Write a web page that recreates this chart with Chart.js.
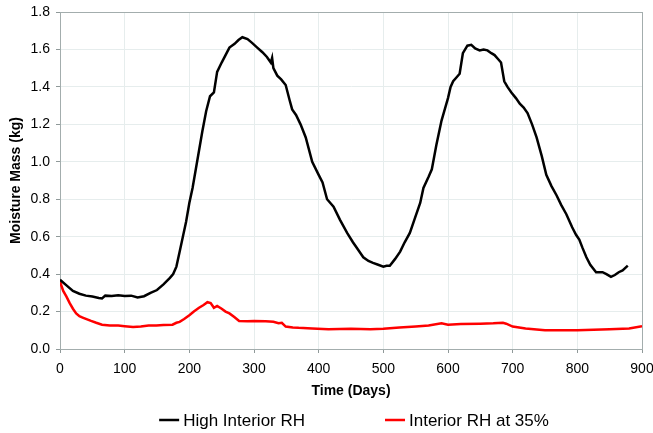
<!DOCTYPE html>
<html>
<head>
<meta charset="utf-8">
<script src="https://cdn.jsdelivr.net/npm/chart.js@4"></script>
<style>
  html, body { margin: 0; padding: 0; background: #fff; }
  #wrap { width: 653px; height: 433px; }
</style>
</head>
<body>
<div id="wrap"><canvas id="moistChart"></canvas></div>
<script>
// data
const highDays = [0, 10, 20, 30, 40, 50, 60, 65, 70, 80, 90, 100, 110, 120, 130, 140, 150, 160, 170, 175, 180, 185, 190, 195, 200, 205, 210, 215, 220, 226, 232, 238, 243, 250, 256, 262, 270, 276, 282, 290, 297, 305, 313, 320, 326, 328, 330, 336, 342, 349, 355, 359, 365, 372, 380, 390, 400, 406, 413, 423, 433, 444, 453, 461, 469, 477, 484, 492, 500, 505, 510, 518, 526, 533, 541, 549, 557, 562, 570, 575, 582, 590, 595, 600, 604, 608, 613, 618, 623, 630, 636, 642, 649, 655, 661, 667, 672, 677, 682, 687, 692, 698, 705, 711, 717, 723, 730, 737, 745, 752, 760, 768, 775, 783, 792, 798, 803, 808, 814, 820, 829, 835, 839, 845, 852, 858, 864, 870, 878];
const highMass = [0.37, 0.34, 0.31, 0.295, 0.285, 0.28, 0.272, 0.27, 0.285, 0.283, 0.287, 0.283, 0.285, 0.275, 0.282, 0.30, 0.315, 0.345, 0.38, 0.40, 0.44, 0.52, 0.60, 0.68, 0.78, 0.86, 0.96, 1.06, 1.16, 1.27, 1.35, 1.37, 1.48, 1.53, 1.57, 1.61, 1.63, 1.65, 1.665, 1.655, 1.635, 1.61, 1.585, 1.56, 1.53, 1.555, 1.50, 1.46, 1.44, 1.41, 1.33, 1.28, 1.25, 1.20, 1.13, 1.00, 0.93, 0.89, 0.80, 0.76, 0.69, 0.62, 0.57, 0.53, 0.49, 0.47, 0.46, 0.45, 0.44, 0.445, 0.445, 0.48, 0.52, 0.57, 0.62, 0.70, 0.78, 0.86, 0.92, 0.96, 1.09, 1.22, 1.28, 1.34, 1.40, 1.43, 1.45, 1.47, 1.58, 1.62, 1.625, 1.605, 1.595, 1.60, 1.595, 1.58, 1.57, 1.55, 1.53, 1.43, 1.40, 1.37, 1.34, 1.31, 1.29, 1.26, 1.20, 1.13, 1.03, 0.93, 0.87, 0.82, 0.77, 0.72, 0.65, 0.61, 0.585, 0.54, 0.49, 0.45, 0.41, 0.41, 0.41, 0.40, 0.385, 0.395, 0.41, 0.42, 0.445];

const lowDays = [0, 5, 10, 15, 20, 25, 30, 35, 41, 48, 56, 65, 77, 90, 100, 113, 125, 137, 149, 160, 174, 180, 185, 192, 200, 207, 215, 222, 228, 233, 238, 243, 250, 256, 262, 270, 277, 290, 300, 318, 330, 338, 343, 349, 360, 369, 390, 415, 450, 480, 500, 525, 550, 570, 590, 600, 620, 650, 670, 685, 690, 700, 720, 750, 780, 800, 850, 880, 900];
const lowMass = [0.36, 0.31, 0.28, 0.245, 0.215, 0.19, 0.175, 0.168, 0.16, 0.15, 0.14, 0.13, 0.125, 0.125, 0.122, 0.117, 0.12, 0.125, 0.125, 0.128, 0.13, 0.14, 0.145, 0.16, 0.18, 0.20, 0.22, 0.235, 0.25, 0.245, 0.22, 0.23, 0.215, 0.20, 0.19, 0.17, 0.15, 0.148, 0.15, 0.148, 0.145, 0.138, 0.14, 0.12, 0.115, 0.113, 0.11, 0.105, 0.108, 0.105, 0.108, 0.115, 0.12, 0.125, 0.137, 0.13, 0.133, 0.135, 0.137, 0.14, 0.135, 0.12, 0.11, 0.10, 0.10, 0.10, 0.105, 0.11, 0.122];

const seriesNames = ['High Interior RH', 'Interior RH at 35%'];
const seriesColors = ['#000000', '#ff0000'];

const font = "'Liberation Sans', Arial, sans-serif";

function toPoints(xs, ys) {
    return xs.map((x, i) => ({x: x, y: ys[i]}));
}

// grey frame round the plot area (top/right edges)
const frame = {
    id: 'frame',
    beforeDatasetsDraw(chart) {
        const a = chart.chartArea;
        const ctx = chart.ctx;
        ctx.save();
        ctx.strokeStyle = '#a3adad';
        ctx.lineWidth = 1;
        ctx.strokeRect(a.left + 0.5, a.top + 0.5, a.right - a.left, a.bottom - a.top);
        ctx.restore();
    }
};

// legend at the bottom: short line then the label, wide gap between items
const bottomLegend = {
    id: 'bottomLegend',
    afterDraw(chart) {
        const ctx = chart.ctx;
        const y = 420;
        const lineLen = 20, gapText = 4, gapItems = 80;
        ctx.save();
        ctx.font = '17px ' + font;
        ctx.textBaseline = 'middle';
        const items = chart.data.datasets.map(ds => ({
            text: ds.label, color: ds.borderColor, w: ctx.measureText(ds.label).width
        }));
        let total = 0;
        items.forEach((it, i) => { total += lineLen + gapText + it.w + (i ? gapItems : 0); });
        let x = 354 - total / 2;
        items.forEach((it) => {
            ctx.strokeStyle = it.color;
            ctx.lineWidth = 2.5;
            ctx.beginPath();
            ctx.moveTo(x, y);
            ctx.lineTo(x + lineLen, y);
            ctx.stroke();
            ctx.fillStyle = '#000';
            ctx.fillText(it.text, x + lineLen + gapText, y + 1);
            x += lineLen + gapText + it.w + gapItems;
        });
        ctx.restore();
    }
};

const ctx = document.getElementById('moistChart').getContext('2d');
new Chart(ctx, {
    type: 'line',
    data: {
        datasets: [
            {
                label: seriesNames[0],
                data: toPoints(highDays, highMass),
                borderColor: seriesColors[0],
                backgroundColor: seriesColors[0],
                borderWidth: 2.5,
                pointRadius: 0,
                tension: 0
            },
            {
                label: seriesNames[1],
                data: toPoints(lowDays, lowMass),
                borderColor: seriesColors[1],
                backgroundColor: seriesColors[1],
                borderWidth: 2.5,
                pointRadius: 0,
                tension: 0
            }
        ]
    },
    options: {
        responsive: true,
        maintainAspectRatio: false,
        animation: false,
        layout: { padding: { top: 12, right: 11, left: 0, bottom: 29 } },
        scales: {
            x: {
                type: 'linear',
                min: 0,
                max: 900,
                afterFit: (s) => { s.height = 55; s.paddingRight = 0; s.paddingLeft = 0; },
                ticks: { stepSize: 100, color: '#000', font: { family: font, size: 14 }, padding: 8 },
                grid: { color: '#e6eded', tickColor: '#8f9999', tickLength: 4 },
                border: { color: '#8f9999', width: 1 },
                title: { display: true, text: 'Time (Days)', color: '#000', font: { family: font, size: 14, weight: 'bold' }, padding: { top: 0, bottom: 4 } }
            },
            y: {
                min: 0,
                max: 1.8,
                afterFit: (s) => { s.width = 60; s.paddingTop = 0; s.paddingBottom = 0; },
                ticks: { stepSize: 0.2, color: '#000', font: { family: font, size: 14 }, padding: 6,
                    callback: (v) => v.toFixed(1) },
                grid: { color: '#e6eded', tickColor: '#8f9999', tickLength: 4 },
                border: { color: '#8f9999', width: 1 },
                title: { display: true, text: 'Moisture Mass (kg)', color: '#000', font: { family: font, size: 14, weight: 'bold' }, padding: { top: 8, bottom: 0 } }
            }
        },
        plugins: {
            legend: { display: false },
            tooltip: { enabled: false }
        }
    },
    plugins: [frame, bottomLegend]
});
</script>
</body>
</html>
